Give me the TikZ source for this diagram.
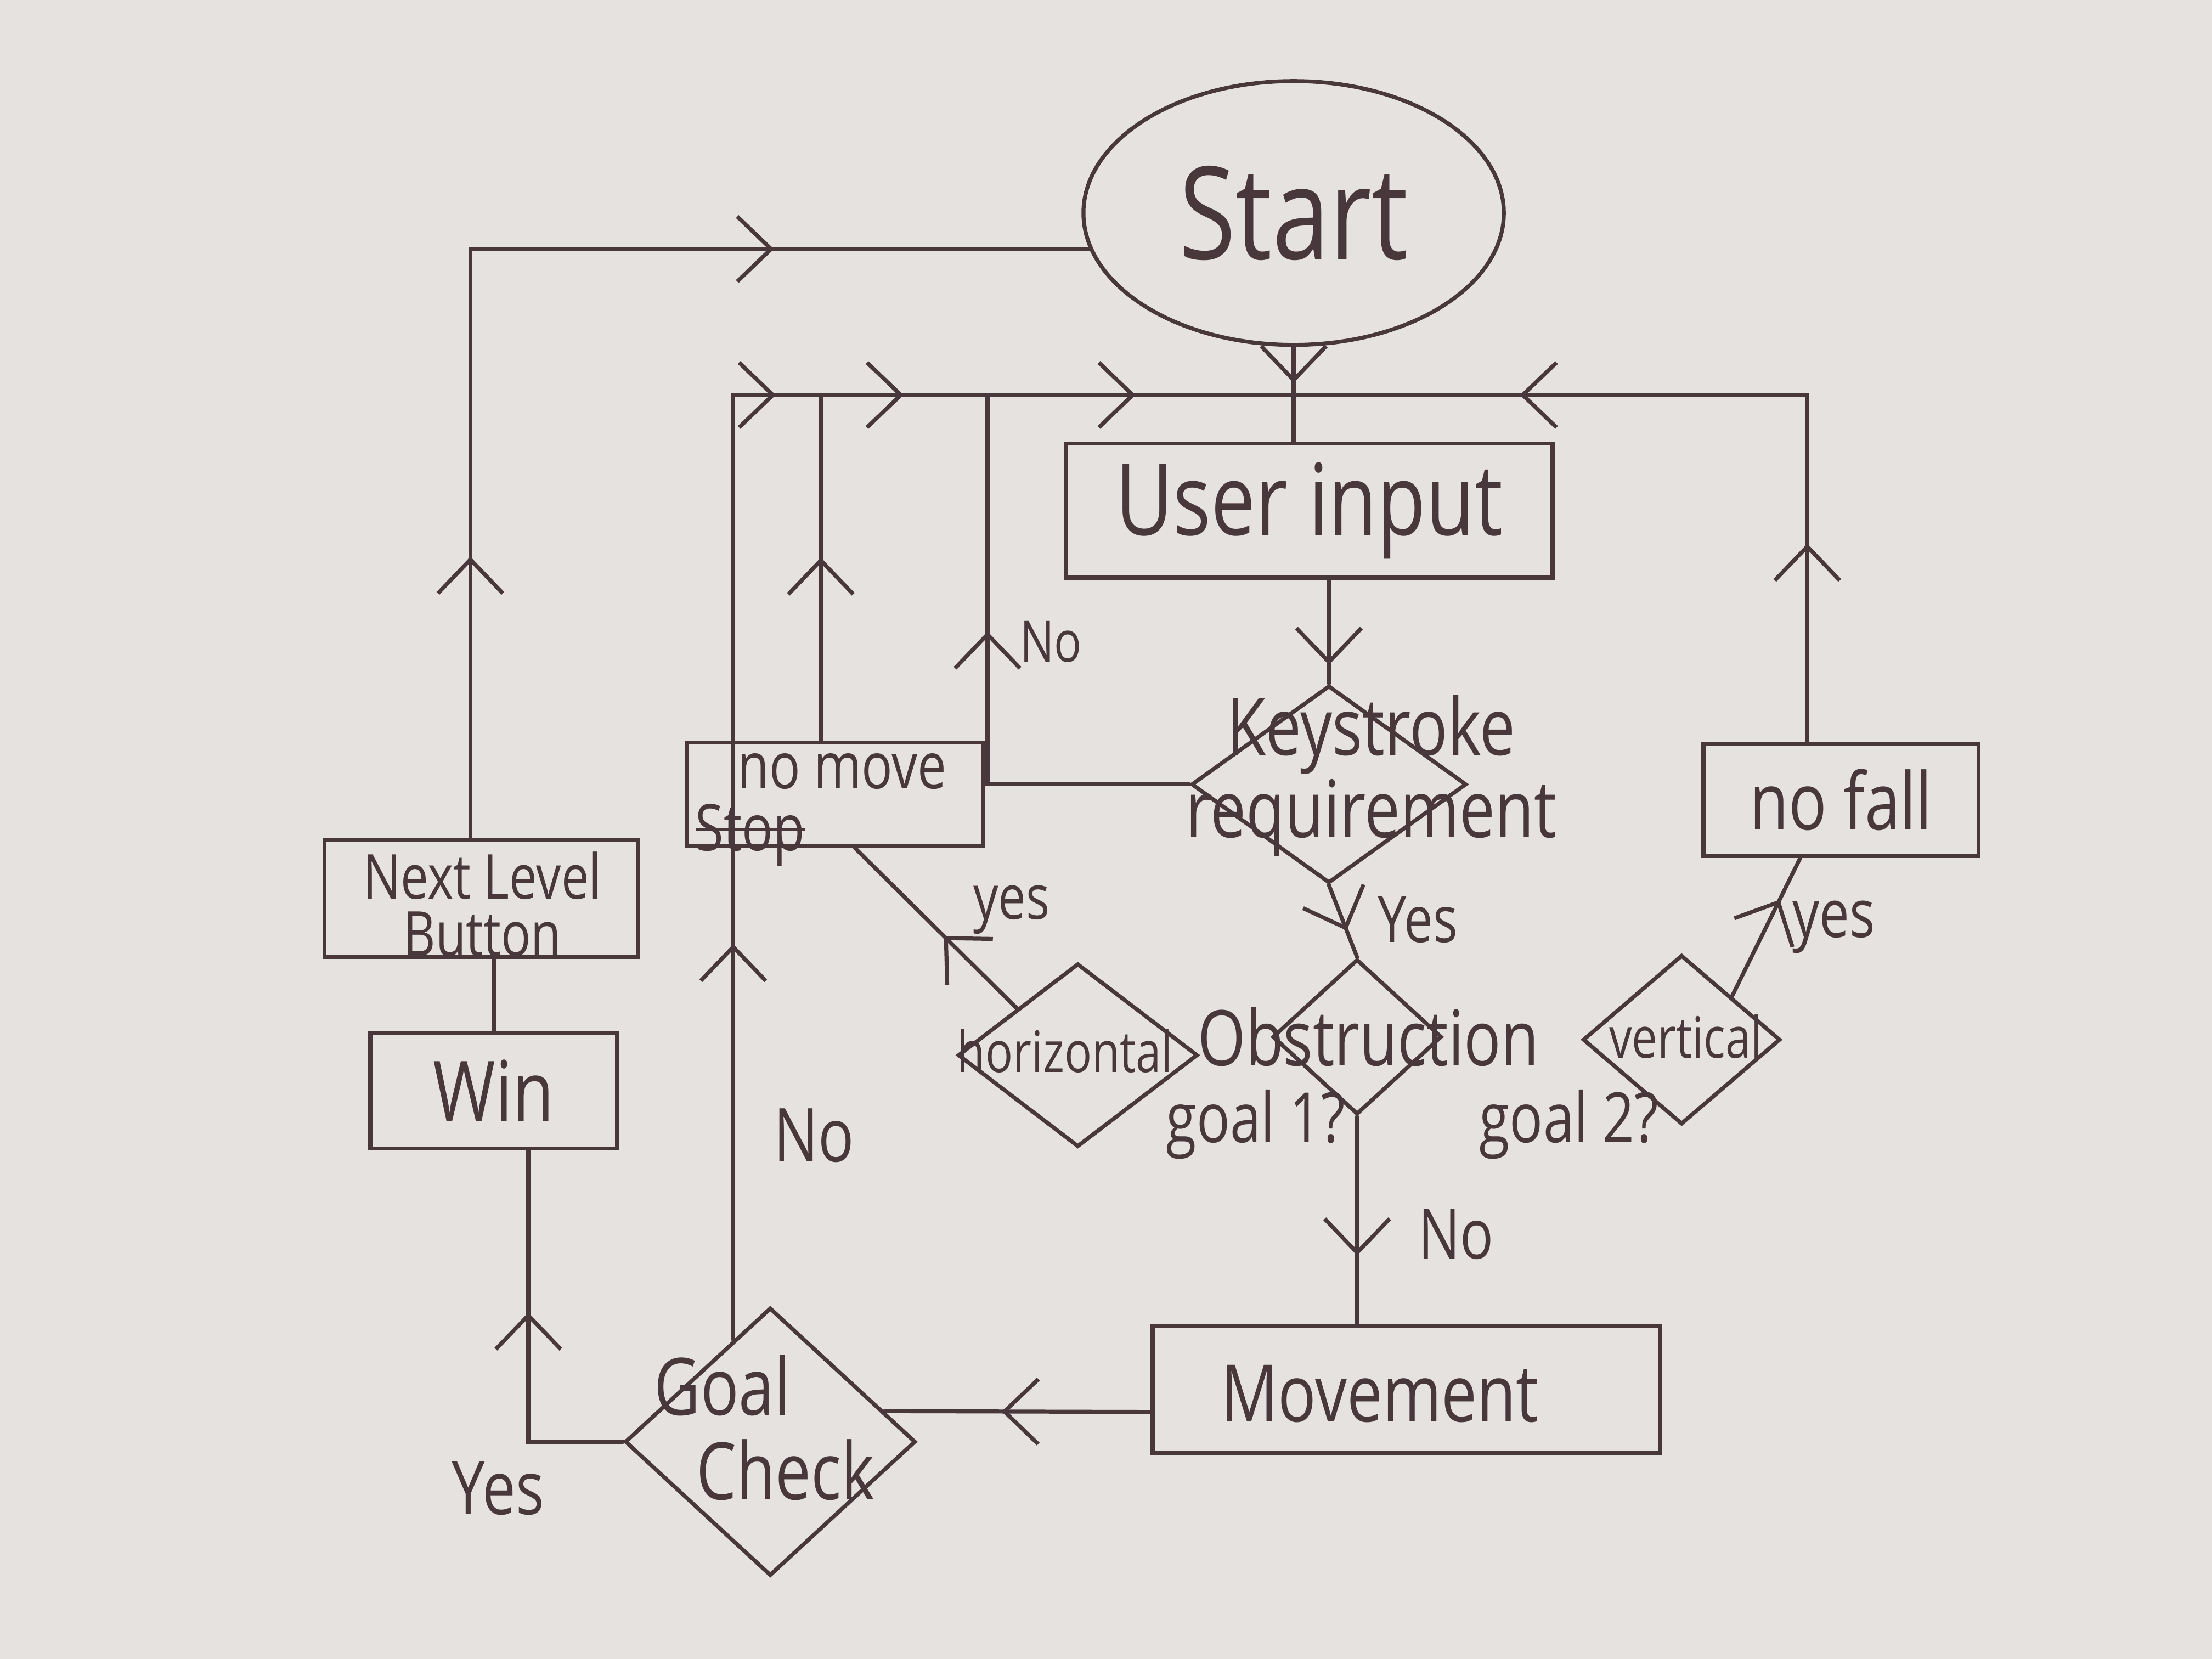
\documentclass[tikz,border=0pt]{standalone}
\usepackage{fontspec}
\setmainfont{Open Sans}[FakeStretch=0.8]
\usepackage{xcolor}
\usetikzlibrary{shapes.geometric,arrows.meta,decorations.markings}
\definecolor{inkc}{RGB}{72,56,60}
\definecolor{paper}{RGB}{230,226,224}
\newcommand{\hand}[2]{\fontsize{#1}{#2}\selectfont}
\newcommand{\struck}[1]{\setbox0\hbox{#1}\rlap{\rule[0.3em]{\wd0}{0.7pt}}\box0}% crossed out word
\tikzset{
  ink/.style = {draw=inkc, line width=0.8pt},
  startnode/.style = {ellipse, ink, minimum width=2.98cm, minimum height=1.87cm},
  procbox/.style = {rectangle, ink, inner sep=0pt, align=center},
  decision/.style = {diamond, ink, inner sep=0pt},% empty diamond, text put on top
  flow/.style = {ink, line cap=round},
  arrowat/.style = {postaction={decorate, decoration={markings,
    mark=at position #1 with {\arrow{>}}}}},% chevron along the line
  lbl/.style = {inner sep=0pt, align=center}
}

\begin{document}
\begin{tikzpicture}[x=1cm, y=-1cm, color=inkc,
  >={Straight Barb[length=2.4mm,width=4.6mm]}]
\fill[paper] (0,0) rectangle (15.68,11.76);
\useasboundingbox (0,0) rectangle (15.68,11.76);

% boxes
\node[startnode, font=\hand{26}{26}] (start) at (9.17,1.51) {Start};
\node[procbox, minimum width=3.45cm, minimum height=0.95cm, font=\hand{20}{20}]
  (userinput) at (9.28,3.62) {User input};
\node[procbox, minimum width=2.1cm, minimum height=0.73cm] (nomove) at (5.92,5.63) {};
\node[lbl, font=\hand{13}{12.5}, align=left] (nomovetxt) at (5.82,5.74)
  {\hspace{0.3cm}no move\\\struck{Stop}};
\node[procbox, minimum width=1.95cm, minimum height=0.8cm, font=\hand{16}{16}]
  (nofall) at (13.05,5.67) {no fall};
\node[procbox, minimum width=2.22cm, minimum height=0.83cm] (nlb) at (3.41,6.37) {};
\node[lbl, font=\hand{12.5}{11.5}] (nlbtxt) at (3.42,6.41) {Next Level\\Button};
\node[procbox, minimum width=1.75cm, minimum height=0.82cm, font=\hand{17}{17}]
  (win) at (3.50,7.73) {Win};
\node[procbox, minimum width=3.6cm, minimum height=0.9cm] (movement) at (9.97,9.85) {};
\node[lbl, font=\hand{16}{16}] (movetxt) at (9.78,9.88) {Movement};

% diamonds
\node[decision, minimum width=1.95cm, minimum height=1.4cm] (keystroke) at (9.42,5.56) {};
\node[lbl, font=\hand{16}{15}] (keytxt) at (9.72,5.50) {Keystroke\\requirement};
\node[decision, minimum width=1.2cm, minimum height=1.1cm] (obstruction) at (9.62,7.35) {};
\node[lbl, font=\hand{15.5}{15.5}] (obstxt) at (9.70,7.35) {Obstruction};
\node[decision, minimum width=1.7cm, minimum height=1.3cm] (horizontal) at (7.64,7.48) {};
\node[lbl, font=\hand{11.5}{11.5}] (hortxt) at (7.55,7.45) {horizontal};
\node[decision, minimum width=1.4cm, minimum height=1.2cm] (vertical) at (11.92,7.37) {};
\node[lbl, font=\hand{11.5}{11.5}] (vertxt) at (11.95,7.35) {vertical};
\node[decision, minimum width=2.06cm, minimum height=1.9cm] (goalcheck) at (5.46,10.22) {};
\node[lbl, font=\hand{16}{17}, align=left] (goaltxt) at (5.42,10.12) {Goal\\\hspace{0.3cm}Check};
\node[lbl, font=\hand{14}{14}] (goalone) at (8.90,7.97) {goal 1?};
\node[lbl, font=\hand{14}{14}] (goaltwo) at (11.12,7.97) {goal 2?};

% return line
\coordinate (busJ) at (9.17,2.80);
\coordinate (busN) at (7.00,2.80);

% connectors
\draw[flow, arrowat=0.38] (start.south) -- (start.south |- userinput.north);
\draw[flow, arrowat=0.82] (keystroke.north |- userinput.south) -- (keystroke.north);
\draw[flow, arrowat=0.63] (keystroke.south) -- (obstruction.north);
\draw[flow, arrowat=0.6] (keystroke.west) -| (busN);
\draw[flow, arrowat=0.53] (nomove.105) -- (nomove.105 |- busJ);
\draw[flow, arrowat=0.263, arrowat=0.656, arrowat=0.741, arrowat=0.895]
  (goalcheck.110) |- (busJ);
\draw[flow, arrowat=0.23, arrowat=0.737] (nofall.120) |- (busJ);
\draw[flow, arrowat=0.45] (horizontal.north west) -- (nomove.290);
\draw[flow, arrowat=0.7] (vertical.north east) -- (nofall.235);
\draw[flow, arrowat=0.67] (obstruction.south) -- (obstruction.south |- movement.north);
\draw[flow, arrowat=0.56] (movement.185) -- (goalcheck.15);
\draw[flow, arrowat=0.58] (goalcheck.west) -| (win.300);
\draw[flow] (win.north) -- (win.north |- nlb.south);
\draw[flow, arrowat=0.233, arrowat=0.739] (nlb.100) |- (start.190);

% labels
\node[lbl, font=\hand{11.5}{11.5}] (keyno) at (7.45,4.55) {No};
\node[lbl, font=\hand{13}{13}] (keyyes) at (10.05,6.52) {Yes};
\node[lbl, font=\hand{12.5}{12.5}] (horyes) at (7.17,6.45) {yes};
\node[lbl, font=\hand{13.5}{13.5}] (veryes) at (13.00,6.57) {yes};
\node[lbl, font=\hand{14}{14}] (obsno) at (10.32,8.75) {No};
\node[lbl, font=\hand{15}{15}] (goalno) at (5.77,8.05) {No};
\node[lbl, font=\hand{15}{15}] (goalyes) at (3.53,10.55) {Yes};
\end{tikzpicture}
\end{document}
